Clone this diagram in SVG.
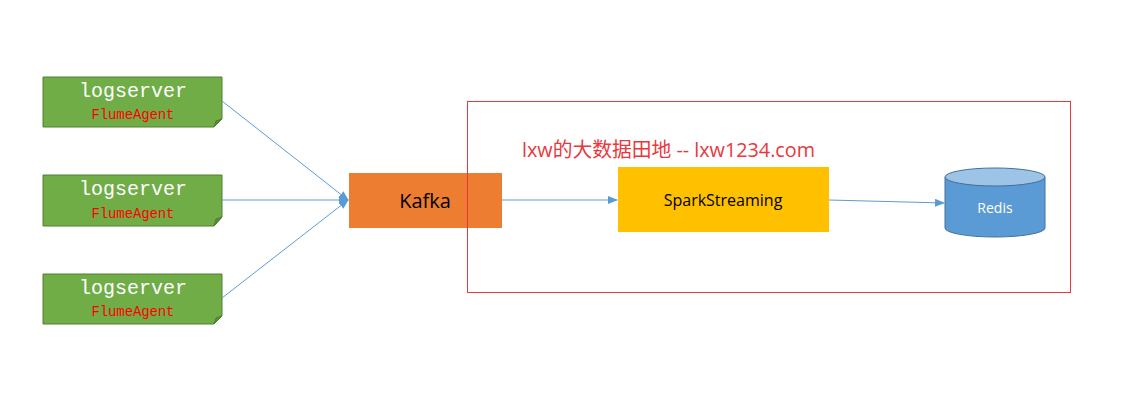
<svg xmlns="http://www.w3.org/2000/svg" width="1123" height="408" viewBox="0 0 1123 408">
<style>
.agent{fill:#70ad47;stroke:#507e32;stroke-width:1}
.fold{fill:#5a8a38;stroke:#507e32;stroke-width:1}
.t1{font-family:"Liberation Mono","DejaVu Sans Mono",monospace;font-size:20px;fill:#ffffff;text-anchor:middle}
.t2{font-family:"Liberation Mono","DejaVu Sans Mono",monospace;font-size:14px;fill:#ff0000;text-anchor:middle}
.conn{stroke:#5b9bd5;stroke-width:1;fill:none}
.lbl{font-family:"Open Sans","Liberation Sans",sans-serif;text-anchor:middle}
</style>
<defs>
<marker id="arr" markerWidth="10" markerHeight="8" refX="9" refY="4" orient="auto" markerUnits="userSpaceOnUse">
<path d="M0,0 L10,4 L0,8 Z" fill="#5b9bd5"/>
</marker>
</defs>
<rect width="1123" height="408" fill="#ffffff"/>
<rect x="467.5" y="101.5" width="603" height="191" fill="none" stroke="#e8383d" stroke-width="1"/>
<g id="agent1">
<path class="agent" d="M43,77 H222 V119 L214,127 H43 Z"/>
<path class="fold" d="M222,119 L214,127 L216,121 Z"/>
<text class="t1" x="133" y="97" textLength="108">logserver</text>
<text class="t2" x="133" y="119" textLength="83">FlumeAgent</text>
</g>
<g id="agent2">
<path class="agent" d="M43,175 H222 V217 L214,226 H43 Z"/>
<path class="fold" d="M222,217 L214,226 L216,219 Z"/>
<text class="t1" x="133" y="195" textLength="108">logserver</text>
<text class="t2" x="133" y="218" textLength="83">FlumeAgent</text>
</g>
<g id="agent3">
<path class="agent" d="M43,274 H222 V316 L214,324 H43 Z"/>
<path class="fold" d="M222,316 L214,324 L216,318 Z"/>
<text class="t1" x="133" y="294" textLength="108">logserver</text>
<text class="t2" x="133" y="316" textLength="83">FlumeAgent</text>
</g>
<g id="connectors">
<line class="conn" x1="222" y1="101" x2="348" y2="200" marker-end="url(#arr)"/>
<line class="conn" x1="222" y1="200" x2="348" y2="200" marker-end="url(#arr)"/>
<line class="conn" x1="222" y1="298" x2="348" y2="200" marker-end="url(#arr)"/>
<line class="conn" x1="502" y1="200" x2="617" y2="200" marker-end="url(#arr)"/>
<line class="conn" x1="829" y1="200" x2="944" y2="203" marker-end="url(#arr)"/>
</g>
<g id="kafka">
<rect x="349" y="173" width="153" height="55" fill="#ed7d31"/>
<line x1="467.5" y1="173" x2="467.5" y2="228" stroke="#e8383d" stroke-width="1"/>
<text class="lbl" x="425" y="208" font-size="20" fill="#000000">Kafka</text>
</g>
<text x="522" y="157" font-family="Open Sans,Liberation Sans,Noto Sans CJK SC,sans-serif" font-size="20" fill="#e8383d" textLength="293" lengthAdjust="spacingAndGlyphs">lxw的大数据田地 -- lxw1234.com</text>
<g id="spark">
<rect x="618" y="167" width="211" height="65" fill="#ffc000"/>
<text class="lbl" x="723" y="206" font-size="16" fill="#000000">SparkStreaming</text>
</g>
<g id="redis">
<path d="M945,177 V228 A50,9 0 0 0 1045,228 V177 Z" fill="#5b9bd5" stroke="#41719c" stroke-width="1"/>
<ellipse cx="995" cy="177" rx="50" ry="9" fill="#9dc3e6" stroke="#41719c" stroke-width="1"/>
<text class="lbl" x="995" y="213" font-size="14" fill="#ffffff">Redis</text>
</g>
</svg>
